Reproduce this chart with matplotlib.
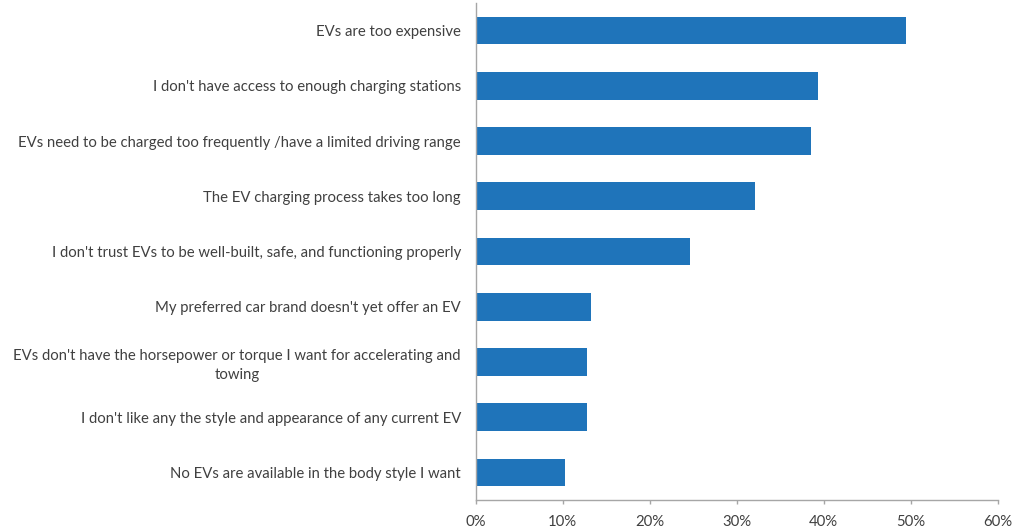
import matplotlib
matplotlib.use("Agg")
import matplotlib.pyplot as plt
from matplotlib.ticker import PercentFormatter

categories = [
    "EVs are too expensive",
    "I don't have access to enough charging stations",
    "EVs need to be charged too frequently /have a limited driving range",
    "The EV charging process takes too long",
    "I don't trust EVs to be well-built, safe, and functioning properly",
    "My preferred car brand doesn't yet offer an EV",
    "EVs don't have the horsepower or torque I want for accelerating and\ntowing",
    "I don't like any the style and appearance of any current EV",
    "No EVs are available in the body style I want",
]
values = [49.5, 39.4, 38.5, 32.1, 24.7, 13.3, 12.8, 12.8, 10.3]
xticks = [0, 10, 20, 30, 40, 50, 60]

plt.rcParams['font.family'] = ['Lato', 'DejaVu Sans']
text_color = '#404040'
axis_color = '#a6a6a6'
bar_color = '#1f74ba'

fig = plt.figure(figsize=(10.27, 5.31), dpi=100)
W, H = 1027, 531
left, right, top, bottom = 475.5, 997.7, 3.0, 500.0
ax = fig.add_axes([left / W, 1 - bottom / H, (right - left) / W, (bottom - top) / H])

y = list(range(len(categories)))
ax.barh(y, values, height=0.5, color=bar_color)
ax.set_ylim(len(categories) - 0.5, -0.5)
ax.set_xlim(0, 60)
ax.set_xticks(xticks)
ax.xaxis.set_major_formatter(PercentFormatter(decimals=0))
ax.set_yticks(y)
ax.set_yticklabels(categories, multialignment='center', linespacing=1.45)

for s in ['top', 'right']:
    ax.spines[s].set_visible(False)
for s in ['left', 'bottom']:
    ax.spines[s].set_color(axis_color)
    ax.spines[s].set_linewidth(1.0)

ax.tick_params(axis='y', length=0, pad=10.5, labelsize=10.75, labelcolor=text_color)
ax.tick_params(axis='x', length=3, width=1, color=axis_color, pad=8,
               labelsize=10.75, labelcolor=text_color)

fig.savefig("out.png", dpi=100)
